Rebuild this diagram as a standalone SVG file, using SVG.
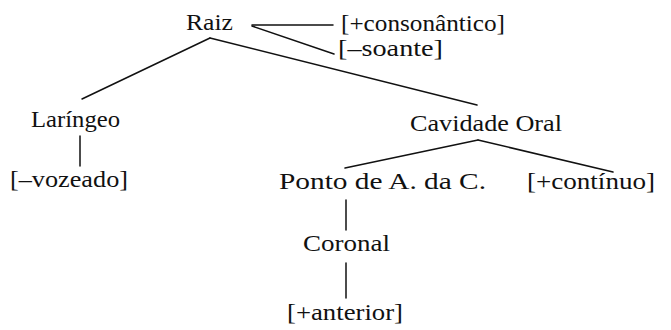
<svg xmlns="http://www.w3.org/2000/svg" width="671" height="330" viewBox="0 0 671 330">
<style>
text{font-family:"Liberation Serif","Times New Roman",Times,serif;font-size:24px;fill:#111}
line{stroke:#111;stroke-width:1.5;stroke-linecap:round}
</style>
<rect width="671" height="330" fill="#fff"/>
<g id="connectors">
<line x1="252" y1="25" x2="333" y2="25"/>
<line x1="252" y1="26" x2="334" y2="54"/>
<line x1="210" y1="38" x2="82" y2="99"/>
<line x1="210" y1="38" x2="477" y2="105"/>
<line x1="80" y1="136" x2="80" y2="166"/>
<line x1="478" y1="140" x2="345" y2="168"/>
<line x1="478" y1="140" x2="613" y2="172"/>
<line x1="346" y1="200" x2="346" y2="230"/>
<line x1="346" y1="263" x2="346" y2="298"/>
</g>
<g id="raiz"><text x="186" y="30" textLength="47" lengthAdjust="spacingAndGlyphs">Raiz</text></g>
<g id="consonantico"><text x="341" y="31" textLength="164" lengthAdjust="spacingAndGlyphs">[+consonântico]</text></g>
<g id="soante"><text x="338" y="56" textLength="105" lengthAdjust="spacingAndGlyphs">[–soante]</text></g>
<g id="laringeo"><text x="31" y="127" textLength="89" lengthAdjust="spacingAndGlyphs">Laríngeo</text></g>
<g id="vozeado"><text x="10" y="187" textLength="118" lengthAdjust="spacingAndGlyphs">[–vozeado]</text></g>
<g id="cavidade"><text x="410" y="131" textLength="152" lengthAdjust="spacingAndGlyphs">Cavidade Oral</text></g>
<g id="ponto"><text x="279" y="189" textLength="207" lengthAdjust="spacingAndGlyphs">Ponto de A. da C.</text></g>
<g id="continuo"><text x="527" y="189" textLength="128" lengthAdjust="spacingAndGlyphs">[+contínuo]</text></g>
<g id="coronal"><text x="303" y="251" textLength="87" lengthAdjust="spacingAndGlyphs">Coronal</text></g>
<g id="anterior"><text x="287" y="320" textLength="116" lengthAdjust="spacingAndGlyphs">[+anterior]</text></g>
</svg>
